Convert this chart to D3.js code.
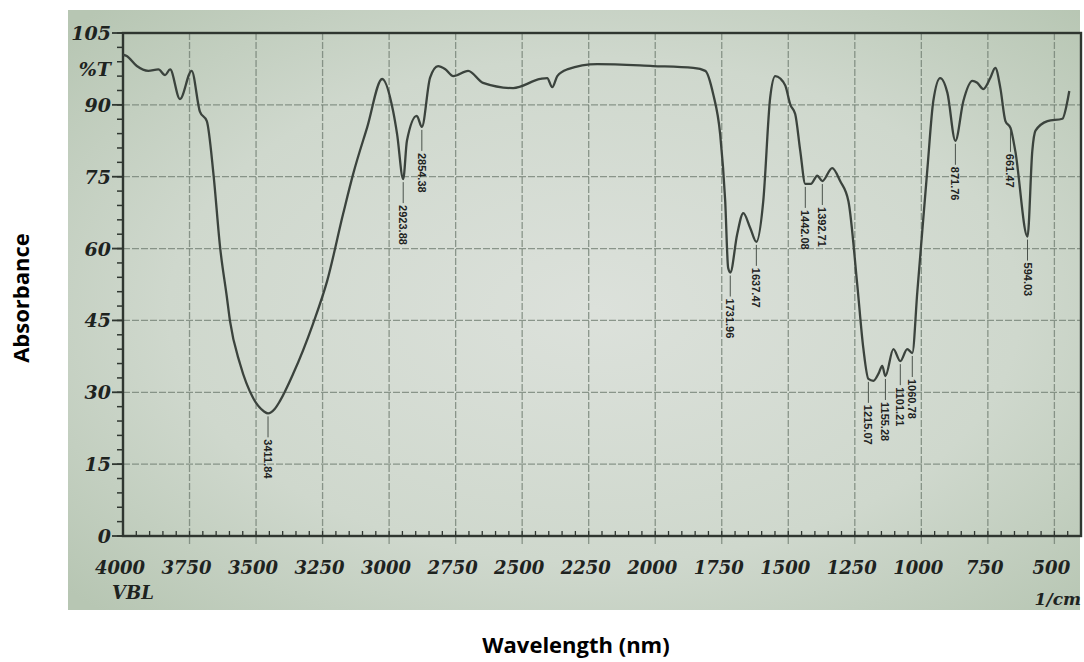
<!DOCTYPE html>
<html>
<head>
<meta charset="utf-8">
<script src="https://cdn.jsdelivr.net/npm/d3@7"></script>
<style>
  body { margin: 0; background: #fff; }
  svg { display: block; }
</style>
</head>
<body>
<svg width="1084" height="662"></svg>
<script>
// IR spectrum, wavenumber (1/cm) vs %T
var wavenumber = [4000, 3986, 3948, 3905, 3867, 3842, 3823, 3786, 3742, 3711, 3685, 3660, 3635, 3610, 3598,
  3560, 3511, 3470, 3455, 3430, 3410, 3361, 3286, 3233, 3173, 3135, 3083, 3026, 2985, 2970, 2947, 2933,
  2896, 2877, 2846, 2816, 2790, 2759, 2703, 2647, 2534, 2432, 2406, 2387, 2368, 2331, 2218, 2008, 1857,
  1812, 1782, 1756, 1737, 1726, 1718, 1692, 1669, 1643, 1620, 1594, 1568, 1549, 1530, 1511, 1492, 1474,
  1455, 1436, 1415, 1391, 1372, 1335, 1305, 1274, 1241, 1218, 1199, 1180, 1160, 1147, 1135, 1105, 1079,
  1053, 1034, 1015, 977, 955, 929, 902, 872, 842, 808, 790, 767, 741, 722, 703, 684, 665, 647, 601, 583,
  571, 526, 470, 451, 444];
var transmittance = [100.5, 100.2, 98.1, 97.1, 97.4, 96.2, 97.4, 91.2, 97.1, 88.6, 86.6, 75.5, 60.2, 50, 44.9,
  35.9, 28.8, 26.0, 25.6, 26.5, 28.2, 33.8, 44.3, 53.2, 67.2, 75.6, 85.2, 95.4, 88.7, 83.9, 74.5, 82.5,
  87.7, 85.4, 95.7, 98.1, 97.5, 96, 97.1, 94.6, 93.5, 95.4, 95.6, 93.7, 96, 97.4, 98.5, 98.1, 97.7,
  97.1, 92.2, 83.9, 69.9, 56, 55, 63, 67.4, 64.3, 61.4, 69.9, 91.5, 96, 95.5, 94, 90, 88.1,
  80.4, 73.5, 73.5, 75.2, 74.1, 76.8, 74.1, 69.9, 52.6, 39.2, 32.8, 32.4, 34, 35.5, 33.4, 39, 36.5,
  39, 38.2, 51, 76.8, 90.8, 95.6, 92.5, 82.5, 90.8, 95, 94.6, 93.3, 95.6, 97.7, 93.5, 86.6, 85.2, 80.4, 62.5, 80.4,
  84.6, 86.6, 87.1, 90.8, 92.9];

// peak marks: where the dip sits on the chart, and the printed value
var peakX = [3455, 2947, 2877, 1718, 1620, 1436, 1372, 1199, 1135, 1079, 1034, 872, 665, 601];
var peakLabels = ["3411.84", "2923.88", "2854.38", "1731.96", "1637.47", "1442.08", "1392.71",
  "1215.07", "1155.28", "1101.21", "1060.78", "871.76", "661.47", "594.03"];

var xTicks = [4000, 3750, 3500, 3250, 3000, 2750, 2500, 2250, 2000, 1750, 1500, 1250, 1000, 750, 500];
var yTicks = [0, 15, 30, 45, 60, 75, 90, 105];

var svg = d3.select("svg");

var x = d3.scaleLinear().domain([4000, 400]).range([123, 1081]);
var y = d3.scaleLinear().domain([0, 105]).range([536, 33]);

// photo of the printout
var defs = svg.append("defs");
var grad = defs.append("radialGradient").attr("id", "paper").
  attr("cx", "52%").attr("cy", "50%").attr("r", "70%");
grad.append("stop").attr("offset", "0%").attr("stop-color", "#dce1db");
grad.append("stop").attr("offset", "60%").attr("stop-color", "#cfd8cd");
grad.append("stop").attr("offset", "100%").attr("stop-color", "#b7c6b3");

svg.append("rect").attr("x", 68).attr("y", 10).attr("width", 1012).attr("height", 600).
  attr("fill", "url(#paper)");

var ink = "#2f3630";
var plot = svg.append("g");

// grid
plot.selectAll(".vgrid").data(xTicks.slice(1)).enter().append("line").
  attr("x1", function (d) { return x(d); }).attr("x2", function (d) { return x(d); }).
  attr("y1", y(105)).attr("y2", y(0) + 9).
  attr("stroke", "#6f7c70").attr("stroke-width", 1.3).attr("stroke-opacity", 0.75).
  attr("stroke-dasharray", "7,2");
plot.selectAll(".hgrid").data(yTicks.slice(1, -1)).enter().append("line").
  attr("x1", x(4000)).attr("x2", x(400)).
  attr("y1", function (d) { return y(d); }).attr("y2", function (d) { return y(d); }).
  attr("stroke", "#6f7c70").attr("stroke-width", 1.3).attr("stroke-opacity", 0.75).
  attr("stroke-dasharray", "7,2");

// minor ticks
plot.selectAll(".ymin").data(d3.range(0, 105.1, 3)).enter().append("line").
  attr("x1", x(4000) - 6).attr("x2", x(4000)).
  attr("y1", function (d) { return y(d); }).attr("y2", function (d) { return y(d); }).
  attr("stroke", ink).attr("stroke-width", 1.5);
plot.selectAll(".ymaj").data(yTicks).enter().append("line").
  attr("x1", x(4000) - 11).attr("x2", x(4000)).
  attr("y1", function (d) { return y(d); }).attr("y2", function (d) { return y(d); }).
  attr("stroke", ink).attr("stroke-width", 1.8);
plot.selectAll(".xmin").data(d3.range(4000, 399, -50)).enter().append("line").
  attr("x1", function (d) { return x(d); }).attr("x2", function (d) { return x(d); }).
  attr("y1", y(0) - 5).attr("y2", y(0)).
  attr("stroke", ink).attr("stroke-width", 1.3);

// frame
plot.append("rect").attr("x", x(4000)).attr("y", y(105)).
  attr("width", x(400) - x(4000)).attr("height", y(0) - y(105)).
  attr("fill", "none").attr("stroke", ink).attr("stroke-width", 2.4);

// tick labels
var tickFont = "'DejaVu Serif', serif";
plot.selectAll(".ylab").data(yTicks).enter().append("text").
  attr("x", 111).attr("y", function (d) { return y(d) + 7; }).
  attr("text-anchor", "end").
  attr("font-family", tickFont).attr("font-style", "italic").attr("font-weight", "bold").
  attr("font-size", 19).attr("fill", "#1e231f").
  text(function (d) { return d; });
plot.append("text").attr("x", 111).attr("y", y(97.5) + 7).attr("text-anchor", "end").
  attr("font-family", tickFont).attr("font-style", "italic").attr("font-weight", "bold").
  attr("font-size", 19).attr("fill", "#1e231f").text("%T");

plot.selectAll(".xlab").data(xTicks).enter().append("text").
  attr("x", function (d) { return x(d) - 3; }).attr("y", 574).
  attr("text-anchor", "middle").
  attr("font-family", tickFont).attr("font-style", "italic").attr("font-weight", "bold").
  attr("font-size", 18).attr("fill", "#1e231f").
  text(function (d) { return d; });
plot.append("text").attr("x", 133).attr("y", 599).attr("text-anchor", "middle").
  attr("font-family", tickFont).attr("font-style", "italic").attr("font-weight", "bold").
  attr("font-size", 18).attr("fill", "#1e231f").text("VBL");
plot.append("text").attr("x", 1081).attr("y", 605).attr("text-anchor", "end").
  attr("font-family", tickFont).attr("font-style", "italic").attr("font-weight", "bold").
  attr("font-size", 17).attr("fill", "#1e231f").text("1/cm");

// spectrum
var points = wavenumber.map(function (w, i) { return [w, transmittance[i]]; });
var line = d3.line().
  x(function (d) { return x(d[0]); }).
  y(function (d) { return y(d[1]); }).
  curve(d3.curveMonotoneX);
plot.append("path").datum(points).
  attr("d", line).attr("fill", "none").
  attr("stroke", "#3b433d").attr("stroke-width", 2.3).attr("stroke-linejoin", "round");

// peak labels
var tAt = function (w) {
  var i = wavenumber.indexOf(w);
  return i >= 0 ? transmittance[i] : 50;
};
var peaks = plot.selectAll(".peak").data(peakX).enter().append("g");
peaks.append("line").
  attr("x1", function (d) { return x(d); }).attr("x2", function (d) { return x(d); }).
  attr("y1", function (d) { return y(tAt(d)) + 3; }).
  attr("y2", function (d) { return y(tAt(d)) + 24; }).
  attr("stroke", "#4a524b").attr("stroke-width", 1);
peaks.append("text").
  attr("transform", function (d) { return "translate(" + (x(d) - 4) + "," + (y(tAt(d)) + 26) + ") rotate(90)"; }).
  attr("font-family", "'Liberation Sans', sans-serif").attr("font-weight", "bold").
  attr("font-size", 11).attr("fill", "#1e231f").
  text(function (d, i) { return peakLabels[i]; });

// outer axis titles
svg.append("text").attr("transform", "translate(29,298) rotate(-90)").
  attr("text-anchor", "middle").
  attr("font-family", "'Open Sans', sans-serif").attr("font-weight", "bold").
  attr("font-size", 22).attr("fill", "#000").text("Absorbance");
svg.append("text").attr("x", 576).attr("y", 653).
  attr("text-anchor", "middle").
  attr("font-family", "'Open Sans', sans-serif").attr("font-weight", "bold").
  attr("font-size", 22).attr("fill", "#000").text("Wavelength (nm)");
</script>
</body>
</html>
